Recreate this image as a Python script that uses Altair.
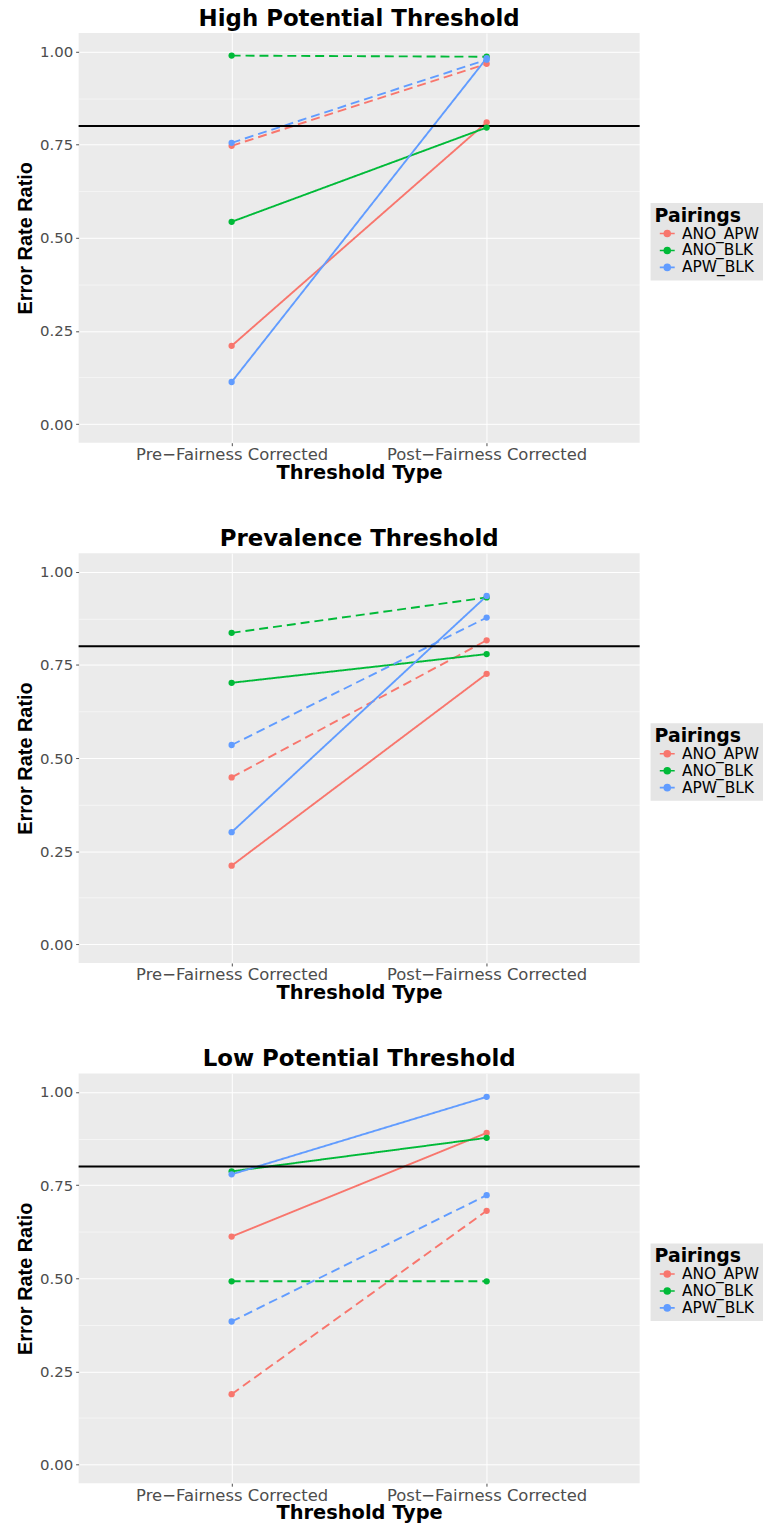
import altair as alt
import pandas as pd

# ---------------- data ----------------
stages = ["Pre−Fairness Corrected", "Post−Fairness Corrected"]
pairings = ["ANO_APW", "ANO_BLK", "APW_BLK"]
pairing_colors = ["#F8766D", "#00BA38", "#619CFF"]
line_kinds = ["solid", "dashed"]

panel_titles = ["High Potential Threshold", "Prevalence Threshold", "Low Potential Threshold"]

# values per pairing (ANO_APW, ANO_BLK, APW_BLK)
high_solid_pre = [0.210, 0.543, 0.113]
high_solid_post = [0.810, 0.796, 0.982]
high_dashed_pre = [0.747, 0.989, 0.755]
high_dashed_post = [0.967, 0.986, 0.978]

prev_solid_pre = [0.211, 0.702, 0.301]
prev_solid_post = [0.726, 0.779, 0.935]
prev_dashed_pre = [0.448, 0.836, 0.535]
prev_dashed_post = [0.816, 0.931, 0.877]

low_solid_pre = [0.612, 0.787, 0.779]
low_solid_post = [0.890, 0.877, 0.987]
low_dashed_pre = [0.189, 0.492, 0.384]
low_dashed_post = [0.681, 0.492, 0.723]

reference_ratio = 0.8
major_breaks = [0.0, 0.25, 0.5, 0.75, 1.0]
minor_breaks = [0.125, 0.375, 0.625, 0.875]

# ---------------- styling ----------------
PLOT_W = 564
PLOT_H = 412
FONT = "DejaVu Sans"
PANEL_BG = "#EBEBEB"
# legend key: short line with a dot (drawn as concentric rings so it looks filled)
LEGEND_SYMBOL = (
    "M-1.5,0L1.5,0"
    "M-0.6,0a0.6,0.6 0 1,0 1.2,0a0.6,0.6 0 1,0 -1.2,0"
    "M-0.4,0a0.4,0.4 0 1,0 0.8,0a0.4,0.4 0 1,0 -0.8,0"
    "M-0.2,0a0.2,0.2 0 1,0 0.4,0a0.2,0.2 0 1,0 -0.4,0"
)
IS_MINOR = "datum.value % 0.25 != 0"


def build_rows(solid_pre, solid_post, dashed_pre, dashed_post):
    rows = []
    for i, p in enumerate(pairings):
        rows.append({"pairing": p, "stage": stages[0], "kind": "solid", "value": solid_pre[i]})
        rows.append({"pairing": p, "stage": stages[1], "kind": "solid", "value": solid_post[i]})
        rows.append({"pairing": p, "stage": stages[0], "kind": "dashed", "value": dashed_pre[i]})
        rows.append({"pairing": p, "stage": stages[1], "kind": "dashed", "value": dashed_post[i]})
    return pd.DataFrame(rows)


def panel(title, df):
    y_scale = alt.Scale(domain=[-0.05, 1.05], nice=False, zero=False)
    x_enc = alt.X(
        "stage:N",
        sort=stages,
        scale=alt.Scale(type="point", padding=0.6),
        axis=alt.Axis(
            title="Threshold Type",
            labelAngle=0,
            labelFont=FONT,
            labelFontSize=16.5,
            labelColor="#4D4D4D",
            labelPadding=1,
            labelLimit=400,
            tickColor="#4D4D4D",
            tickSize=3,
            domain=False,
            grid=True,
            gridColor="white",
            gridWidth=1,
            titleFont=FONT,
            titleFontSize=19.5,
            titleFontWeight="bold",
            titleColor="black",
            titlePadding=0,
        ),
    )
    y_enc = alt.Y(
        "value:Q",
        scale=y_scale,
        axis=alt.Axis(
            title="Error Rate Ratio",
            values=sorted(major_breaks + minor_breaks),
            labelExpr=f"{IS_MINOR} ? '' : format(datum.value, '.2f')",
            labelFont=FONT,
            labelFontSize=15,
            labelColor="#4D4D4D",
            labelPadding=3,
            tickColor="#4D4D4D",
            tickSize=3,
            tickOpacity={"condition": {"test": IS_MINOR, "value": 0}, "value": 1},
            domain=False,
            grid=True,
            gridColor="white",
            gridWidth={"condition": {"test": IS_MINOR, "value": 0.5}, "value": 1},
            titleFont="Liberation Sans",
            titleFontSize=20,
            titleFontWeight="bold",
            titleColor="black",
            titlePadding=4,
        ),
    )
    color_enc = alt.Color(
        "pairing:N",
        scale=alt.Scale(domain=pairings, range=pairing_colors),
        legend=alt.Legend(
            title="Pairings",
            orient="none",
            legendX=PLOT_W + 11,
            legendY=171,
            fillColor="#E5E5E5",
            padding=4,
            titleFont=FONT,
            titleFontSize=19,
            titleFontWeight="bold",
            titleColor="black",
            titlePadding=0,
            labelFont=FONT,
            labelFontSize=15.5,
            labelColor="black",
            labelOffset=7,
            rowPadding=-1,
            symbolType=LEGEND_SYMBOL,
            symbolSize=100,
            symbolStrokeWidth=1.6,
            symbolOffset=5,
        ),
    )
    dash_enc = alt.StrokeDash(
        "kind:N",
        scale=alt.Scale(domain=line_kinds, range=[[1, 0], [9, 5]]),
        legend=None,
    )

    base = alt.Chart(df)
    lines = base.mark_line(strokeWidth=1.9).encode(
        x=x_enc, y=y_enc, color=color_enc, strokeDash=dash_enc,
        detail="kind:N",
    )
    ref = (
        alt.Chart(pd.DataFrame({"value": [reference_ratio]}))
        .mark_rule(color="black", strokeWidth=2)
        .encode(y=alt.Y("value:Q"))
    )
    points = base.mark_circle(size=40, opacity=1).encode(
        x=alt.X("stage:N", sort=stages),
        y=alt.Y("value:Q"),
        color=alt.Color("pairing:N", legend=None),
    )
    return (
        alt.layer(lines, ref, points)
        .properties(
            width=PLOT_W,
            height=PLOT_H,
            view=alt.ViewBackground(fill=PANEL_BG, strokeWidth=0),
            title=alt.TitleParams(
                title,
                font=FONT,
                fontSize=23,
                fontWeight="bold",
                color="black",
                anchor="middle",
                frame="group",
                offset=2,
            ),
        )
    )


p1 = panel(panel_titles[0], build_rows(high_solid_pre, high_solid_post, high_dashed_pre, high_dashed_post))
p2 = panel(panel_titles[1], build_rows(prev_solid_pre, prev_solid_post, prev_dashed_pre, prev_dashed_post))
p3 = panel(panel_titles[2], build_rows(low_solid_pre, low_solid_post, low_dashed_pre, low_dashed_post))

chart = (
    alt.vconcat(p1, p2, p3, spacing=47)
    .resolve_legend(color="independent")
    .resolve_scale(color="independent")
    .properties(padding={"left": 7, "top": -4, "right": 0, "bottom": 0})
    .configure_view(fill=PANEL_BG, strokeWidth=0)
    .configure(background="white")
)

chart.save("out.html", embed_options={"renderer": "svg", "actions": False})
